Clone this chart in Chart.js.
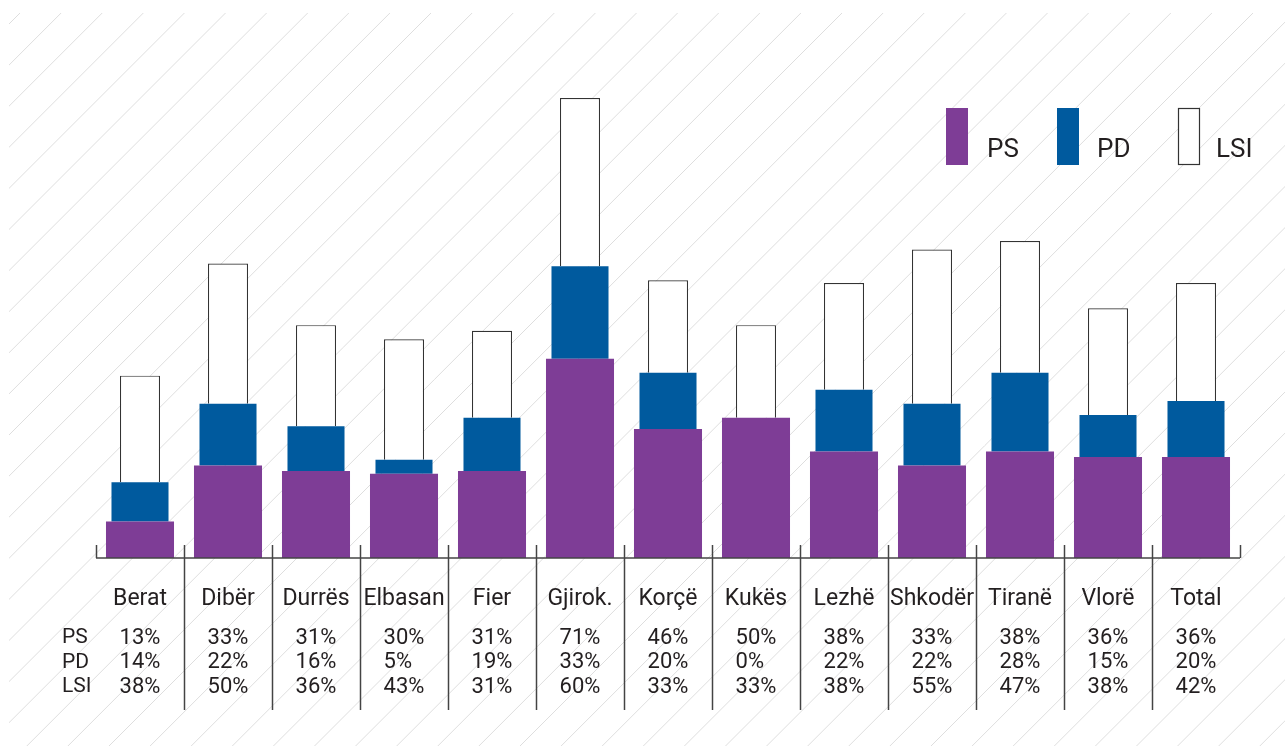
<!DOCTYPE html>
<html>
<head>
<meta charset="utf-8">
<script src="https://cdn.jsdelivr.net/npm/chart.js@4"></script>
<style>
  html, body { margin: 0; padding: 0; background: #fff; }
  #wrap { width: 1285px; height: 746px; position: relative; }
</style>
</head>
<body>
<div id="wrap"><canvas id="votes"></canvas></div>
<script>
////////////////// Data ///////////////////////

const categories = ["Berat", "Dibër", "Durrës", "Elbasan", "Fier", "Gjirok.", "Korçë", "Kukës", "Lezhë", "Shkodër", "Tiranë", "Vlorë", "Total"];
const psValues = [13, 33, 31, 30, 31, 71, 46, 50, 38, 33, 38, 36, 36];
const pdValues = [14, 22, 16, 5, 19, 33, 20, 0, 22, 22, 28, 15, 20];
const lsiValues = [38, 50, 36, 43, 31, 60, 33, 33, 38, 55, 47, 38, 42];
const seriesNames = ["PS", "PD", "LSI"];

const TEXT = "#231f20";
const FONT = "Roboto, 'Liberation Sans', sans-serif";

////////////////// Plugins ///////////////////////

// diagonal hatching behind everything
const hatchPlugin = {
  id: "hatch",
  beforeDraw(chart) {
    const ctx = chart.ctx;
    const w = chart.width, h = chart.height;
    ctx.save();
    ctx.beginPath();
    ctx.rect(9, 13, w, h);
    ctx.clip();
    ctx.strokeStyle = "#dedede";
    ctx.lineWidth = 1;
    for (let c = 33 - 41.1 * 2; c < w + h; c += 41.1) {
      ctx.beginPath();
      ctx.moveTo(c, 0);
      ctx.lineTo(0, c);
      ctx.stroke();
    }
    ctx.restore();
  },
};

// axis, column dividers, the table of values and the legend
const tablePlugin = {
  id: "table",
  afterDraw(chart) {
    const ctx = chart.ctx;
    const x = chart.scales.x;
    const y = chart.scales.y;
    const base = y.getPixelForValue(0);
    const half = (x.getPixelForValue(1) - x.getPixelForValue(0)) / 2;
    const n = categories.length;
    const rows = [psValues, pdValues, lsiValues];

    ctx.save();
    ctx.strokeStyle = "#444";
    ctx.lineWidth = 1.5;
    ctx.beginPath();
    ctx.moveTo(x.getPixelForValue(0) - half, base);
    ctx.lineTo(x.getPixelForValue(n - 1) + half, base);
    ctx.stroke();

    for (let i = 0; i <= n; i++) {
      const px = Math.round(x.getPixelForValue(i) - half) + 0.5;
      const end = (i === 0 || i === n) ? base : base + 152;
      ctx.beginPath();
      ctx.moveTo(px, base - 13);
      ctx.lineTo(px, end);
      ctx.stroke();
    }

    ctx.fillStyle = TEXT;
    ctx.textBaseline = "middle";

    // category names
    ctx.font = "23px " + FONT;
    ctx.textAlign = "center";
    categories.forEach((c, i) => ctx.fillText(c, x.getPixelForValue(i), base + 41));

    // row names
    ctx.font = "21px " + FONT;
    ctx.textAlign = "left";
    seriesNames.forEach((s, r) => ctx.fillText(s, 62, base + 80 + r * 24.6));

    // values, left aligned inside each column block
    ctx.font = "22px " + FONT;
    categories.forEach((c, i) => {
      const strs = rows.map(arr => arr[i] + "%");
      const maxW = Math.max(...strs.map(s => ctx.measureText(s).width));
      const left = x.getPixelForValue(i) - maxW / 2;
      strs.forEach((s, r) => ctx.fillText(s, left, base + 80 + r * 24.6));
    });

    // legend
    const legendX = [946, 1057, 1178];
    const textX = [987, 1097, 1216];
    ctx.font = "26px " + FONT;
    ctx.textBaseline = "alphabetic";
    chart.data.datasets.forEach((ds, k) => {
      ctx.fillStyle = ds.backgroundColor;
      ctx.fillRect(legendX[k], 108, 22, 57);
      if (ds.borderWidth) {
        ctx.strokeStyle = ds.borderColor;
        ctx.lineWidth = 1.2;
        ctx.strokeRect(legendX[k] + 0.5, 108.5, 21, 56);
      }
      ctx.fillStyle = TEXT;
      ctx.fillText(ds.label, textX[k], 157);
    });
    ctx.restore();
  },
};

////////////////// Chart ///////////////////////

const ctx = document.getElementById("votes");
const myChart = new Chart(ctx, {
  type: "bar",
  data: {
    labels: categories,
    datasets: [
      {
        label: "PS",
        data: psValues,
        backgroundColor: "#7e3d96",
        barPercentage: 0.773,
        categoryPercentage: 1,
      },
      {
        label: "PD",
        data: pdValues,
        backgroundColor: "#005a9e",
        barPercentage: 0.648,
        categoryPercentage: 1,
      },
      {
        label: "LSI",
        data: lsiValues,
        backgroundColor: "#ffffff",
        borderColor: "#333333",
        borderWidth: 1.2,
        barPercentage: 0.455,
        categoryPercentage: 1,
      },
    ],
  },
  options: {
    responsive: true,
    maintainAspectRatio: false,
    animation: false,
    layout: {
      padding: { top: 11, bottom: 188, left: 96, right: 45 },
    },
    scales: {
      x: { stacked: true, display: false },
      y: { stacked: true, display: false, min: 0, max: 195 },
    },
    plugins: {
      legend: { display: false },
      tooltip: { enabled: false },
    },
  },
  plugins: [hatchPlugin, tablePlugin],
});
</script>
</body>
</html>
